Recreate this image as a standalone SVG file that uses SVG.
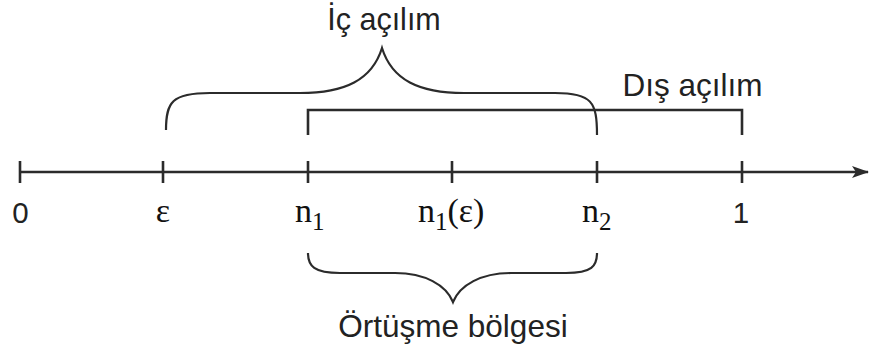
<svg xmlns="http://www.w3.org/2000/svg" width="874" height="353" viewBox="0 0 874 353">
<style>
.ln{fill:none;stroke:#2b2b2b;stroke-width:2.6}
.br{fill:none;stroke:#2b2b2b;stroke-width:2.2}
.sans{font-family:"Liberation Sans",Arial,sans-serif;font-size:31.5px;fill:#222}
.num{font-family:"Liberation Sans",Arial,sans-serif;font-size:29.5px;fill:#222}
.ser{font-family:"Liberation Serif","Times New Roman",serif;font-size:34px;fill:#111}
.sub{font-size:25px}
</style>
<defs>
<marker id="ah" markerWidth="18" markerHeight="12" refX="16" refY="6" orient="auto" markerUnits="userSpaceOnUse">
<path d="M0,0 L17,6 L0,12 L4,6 Z" fill="#2b2b2b"/>
</marker>
</defs>
<g id="connectors">
<line class="ln" x1="20" y1="172" x2="868" y2="172" marker-end="url(#ah)"/>
</g>
<g id="ticks">
<line class="ln" x1="20" y1="161" x2="20" y2="183"/>
<line class="ln" x1="163" y1="161" x2="163" y2="183"/>
<line class="ln" x1="308" y1="161" x2="308" y2="183"/>
<line class="ln" x1="452" y1="161" x2="452" y2="183"/>
<line class="ln" x1="597" y1="161" x2="597" y2="183"/>
<line class="ln" x1="742" y1="161" x2="742" y2="183"/>
</g>
<g id="labels">
<text class="num" x="20.5" y="223" text-anchor="middle">0</text>
<text class="ser" x="163" y="222" text-anchor="middle">ε</text>
<text class="ser" x="295" y="222">n<tspan class="sub" dy="8">1</tspan></text>
<text class="ser" x="418" y="222">n<tspan class="sub" dy="8">1</tspan><tspan dy="-8">(ε)</tspan></text>
<text class="ser" x="582" y="222">n<tspan class="sub" dy="8">2</tspan></text>
<text class="num" x="741" y="223" text-anchor="middle">1</text>
</g>
<g id="ic-acilim">
<path class="br" d="M166,130 C166,102 172,93 210,93 L300,93 C345,93 372,80 382,48 C392,80 419,93 464,93 L555,93 C592,93 597,102 597,135"/>
<text class="sans" x="384" y="30" text-anchor="middle" style="font-size:30.5px">İç açılım</text>
</g>
<g id="dis-acilim">
<path class="ln" d="M308,135 V110 H742 V135"/>
<text class="sans" x="692.5" y="96" text-anchor="middle">Dış açılım</text>
</g>
<g id="ortusme">
<path class="br" d="M308,253 C308,266 314,273 340,273 L395,273 C425,273 446,285 453,302 C460,285 481,273 511,273 L566,273 C592,273 597,266 597,253"/>
<text class="sans" x="453" y="337" text-anchor="middle">Örtüşme bölgesi</text>
</g>
</svg>
